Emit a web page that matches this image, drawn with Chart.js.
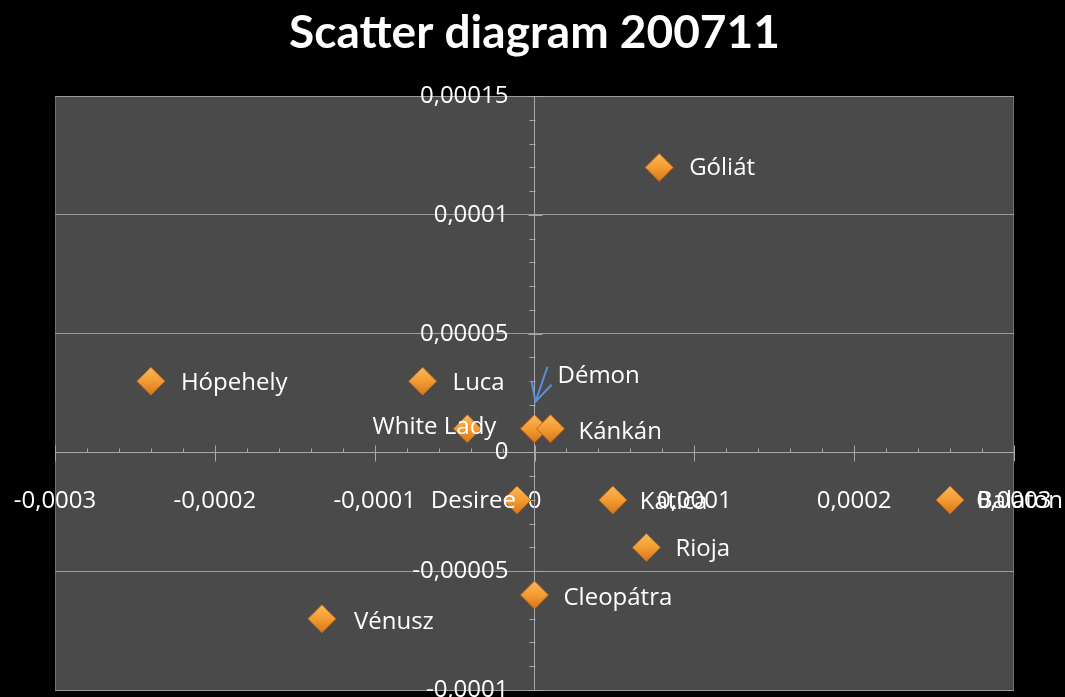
<!DOCTYPE html>
<html>
<head>
<meta charset="utf-8">
<script src="https://cdn.jsdelivr.net/npm/chart.js@4.4.0/dist/chart.umd.min.js"></script>
<style>
  html, body { margin: 0; padding: 0; background: #000; }
  #wrap { width: 1065px; height: 697px; position: relative; }
</style>
</head>
<body>
<div id="wrap"><canvas id="c" width="1065" height="697"></canvas></div>
<script>
// ---- data ----
const varieties = ['Góliát', 'Hópehely', 'Luca', 'White Lady', 'Démon', 'Kánkán', 'Desiree', 'Katica', 'Balaton', 'Rioja', 'Cleopátra', 'Vénusz'];
const xValues  = [0.000078, -0.00024, -0.00007, -0.000042, 0.0, 0.00001, -0.000011, 0.000049, 0.00026, 0.00007, 0.0, -0.000133];
const yValues  = [0.00012, 0.00003, 0.00003, 0.00001, 0.00001, 0.00001, -0.00002, -0.00002, -0.00002, -0.00004, -0.00006, -0.00007];
const xTickValues = [-0.0003, -0.0002, -0.0001, 0, 0.0001, 0.0002, 0.0003];
const yTickValues = [-0.0001, -0.00005, 0, 0.00005, 0.0001, 0.00015];
const chartTitle = 'Scatter diagram 200711';

function fmt(v) {
  if (Math.abs(v) < 1e-12) return '0';
  let s = Number(v.toPrecision(6)).toString();
  return s.replace('.', ',');
}

// label placement relative to point: [dx, dy, align]
const labelPlace = {
  'Góliát': [30, 1, 'left'], 'Hópehely': [30, 2, 'left'], 'Luca': [30, 2, 'left'],
  'White Lady': [29, -2, 'right'], 'Démon': [23, -53, 'left'], 'Kánkán': [28, 3, 'left'],
  'Desiree': [-1, 1, 'right'], 'Katica': [27, 2, 'left'], 'Balaton': [27, 1, 'left'],
  'Rioja': [29, 2, 'left'], 'Cleopátra': [29, 3, 'left'], 'Vénusz': [32, 3, 'left']
};

const zeroX = s => { s.paddingLeft = 0; s.paddingRight = 0; s.paddingTop = 0; s.paddingBottom = 0; s.height = 0; };
const zeroY = s => { s.paddingLeft = 0; s.paddingRight = 0; s.paddingTop = 0; s.paddingBottom = 0; s.width = 0; };

function markerFill(c) {
  const ch = c.chart;
  const xs = ch.scales && ch.scales.x, ys = ch.scales && ch.scales.y;
  if (!xs || !ys || !c.parsed || !isFinite(xs.getPixelForValue(c.parsed.x))) return '#f59a30';
  const px = xs.getPixelForValue(c.parsed.x), py = ys.getPixelForValue(c.parsed.y);
  if (!isFinite(py)) return '#f59a30';
  const g = ch.ctx.createLinearGradient(px, py - 14, px, py + 14);
  g.addColorStop(0, '#fbb85a');
  g.addColorStop(0.5, '#f49b32');
  g.addColorStop(1, '#d4761c');
  return g;
}

const bgPlugin = {
  id: 'plotBg',
  beforeDraw(chart) {
    const { ctx, chartArea: a } = chart;
    ctx.save();
    ctx.fillStyle = '#000';
    ctx.fillRect(0, 0, chart.width, chart.height);
    ctx.fillStyle = '#4a4a4a';
    ctx.fillRect(a.left, a.top, a.right - a.left, a.bottom - a.top);
    ctx.strokeStyle = '#6e6e6e';
    ctx.lineWidth = 1;
    ctx.beginPath();
    ctx.moveTo(a.left + 0.5, a.top); ctx.lineTo(a.left + 0.5, a.bottom);
    ctx.moveTo(a.right - 0.5, a.top); ctx.lineTo(a.right - 0.5, a.bottom);
    ctx.stroke();
    ctx.restore();
  },
  beforeDatasetsDraw(chart) {
    const { ctx } = chart;
    const xs = chart.scales.x, ys = chart.scales.y;
    const y0 = Math.round(ys.getPixelForValue(0)) + 0.5;
    const x0 = Math.round(xs.getPixelForValue(0)) + 0.5;
    ctx.save();
    ctx.strokeStyle = '#a8a8a8';
    ctx.lineWidth = 1;
    ctx.beginPath();
    for (let i = -15; i <= 15; i++) {
      const px = Math.round(xs.getPixelForValue(i * 0.00002)) + 0.5;
      if (i % 5 === 0) { ctx.moveTo(px, y0 - 7); ctx.lineTo(px, y0 + 9); }
      else { ctx.moveTo(px, y0 - 4); ctx.lineTo(px, y0); }
    }
    for (let j = -10; j <= 15; j++) {
      const py = Math.round(ys.getPixelForValue(j * 0.00001)) + 0.5;
      if (j % 5 === 0) { ctx.moveTo(x0 - 7, py); ctx.lineTo(x0 + 7, py); }
      else { ctx.moveTo(x0 - 6, py); ctx.lineTo(x0, py); }
    }
    ctx.stroke();
    ctx.restore();
  },
  afterDatasetsDraw(chart) {
    const { ctx } = chart;
    const meta = chart.getDatasetMeta(0);
    ctx.save();
    ctx.font = '24px "Open Sans"';
    ctx.fillStyle = '#ffffff';
    ctx.textBaseline = 'middle';
    meta.data.forEach((el, i) => {
      const name = varieties[i];
      const p = labelPlace[name] || [28, 0, 'left'];
      ctx.textAlign = p[2];
      ctx.fillText(name, el.x + p[0], el.y + p[1]);
      if (name === 'Démon') {
        const tx = el.x + 1, ty = el.y - 27;
        const sx = el.x + 13, sy = el.y - 62;
        ctx.strokeStyle = '#5b8fd6';
        ctx.lineWidth = 2;
        ctx.beginPath();
        ctx.moveTo(sx, sy); ctx.lineTo(tx, ty);
        ctx.moveTo(tx - 4, ty - 21); ctx.lineTo(tx, ty);
        ctx.lineTo(tx + 16, ty - 17);
        ctx.stroke();
      }
    });
    ctx.restore();
  }
};

const ctx = document.getElementById('c').getContext('2d');
new Chart(ctx, {
  type: 'scatter',
  data: {
    datasets: [{
      label: 'Varieties',
      data: varieties.map((n, i) => ({ x: xValues[i], y: yValues[i] })),
      pointStyle: 'rectRot',
      pointRadius: 14,
      pointHoverRadius: 14,
      backgroundColor: markerFill,
      borderColor: '#b8661a',
      borderWidth: 1
    }]
  },
  options: {
    responsive: false,
    animation: false,
    events: [],
    layout: { autoPadding: false, padding: { left: 55, right: 51, top: 0, bottom: 7 } },
    plugins: {
      legend: { display: false },
      tooltip: { enabled: false },
      title: {
        display: true,
        text: chartTitle,
        color: '#ffffff',
        font: { family: 'Lato', weight: 'bold', size: 46, lineHeight: 1.2 },
        padding: { top: 6, bottom: 35 }
      }
    },
    scales: {
      x: {
        type: 'linear',
        position: { y: 0 },
        min: -0.0003, max: 0.0003,
        afterBuildTicks: s => { s.ticks = xTickValues.map(v => ({ value: v })); },
        afterFit: zeroX,
        ticks: {
          autoSkip: false, maxRotation: 0, color: '#ffffff', padding: 34,
          font: { family: 'Open Sans', size: 24 },
          callback: v => fmt(v)
        },
        grid: { display: true, drawOnChartArea: false, drawTicks: false },
        border: { display: true, color: '#a8a8a8', width: 1 }
      },
      y: {
        type: 'linear',
        position: 'center',
        min: -0.0001, max: 0.00015,
        afterBuildTicks: s => { s.ticks = yTickValues.map(v => ({ value: v })); },
        afterFit: zeroY,
        ticks: {
          autoSkip: false, color: '#ffffff', padding: 26,
          font: { family: 'Open Sans', size: 24 },
          callback: v => fmt(v)
        },
        grid: { display: true, drawOnChartArea: true, drawTicks: false, color: '#9a9a9a', lineWidth: 1 },
        border: { display: true, color: '#a8a8a8', width: 1 }
      }
    }
  },
  plugins: [bgPlugin]
});
</script>
</body>
</html>
